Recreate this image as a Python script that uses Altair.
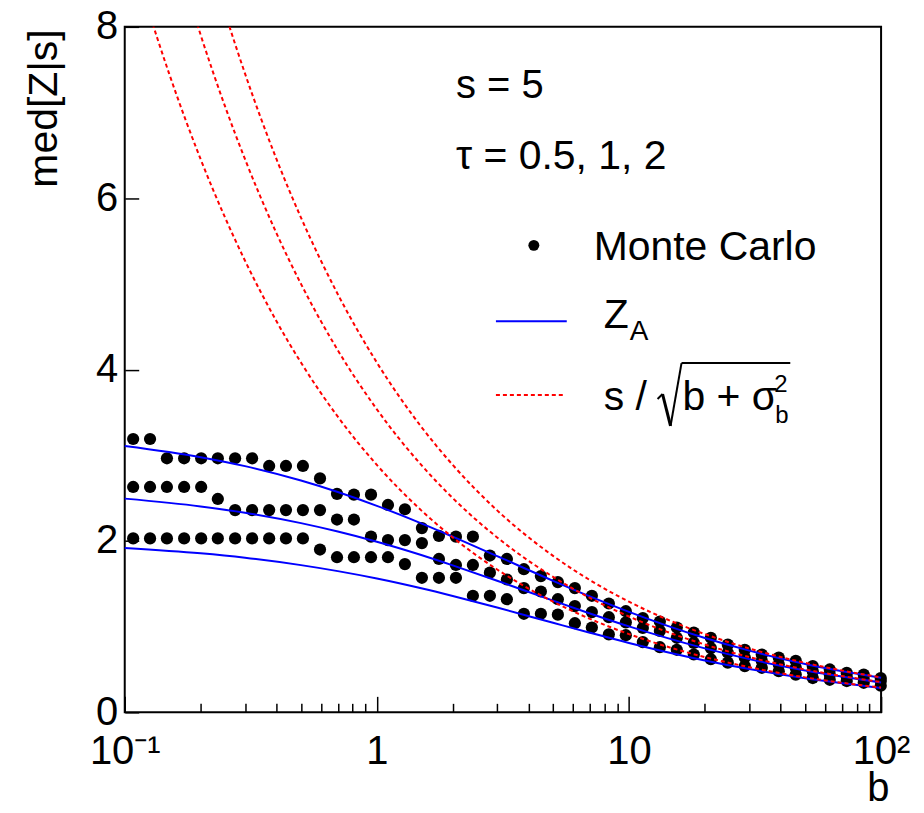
import altair as alt
import pandas as pd

FONT = "Liberation Sans"

# ---------------- data ----------------
# Monte Carlo b grid
b_mc = [0.108, 0.126, 0.147, 0.172, 0.201, 0.234, 0.274, 0.320, 0.374, 0.436,
        0.509, 0.595, 0.695, 0.811, 0.948, 1.107, 1.292, 1.509, 1.763, 2.059,
        2.404, 2.808, 3.279, 3.830, 4.473, 5.224, 6.101, 7.125, 8.322, 9.719,
        11.35, 13.26, 15.48, 18.08, 21.12, 24.66, 28.80, 33.64, 39.28, 45.88,
        53.58, 62.58, 73.08, 85.35, 99.7]
mc_tau2 = [3.19, 3.19, 2.965, 2.965, 2.965, 2.965, 2.965, 2.965, 2.875, 2.875,
           2.875, 2.73, 2.55, 2.54, 2.54, 2.42, 2.37, 2.15, 2.06, 2.05,
           2.05, 1.83, 1.79, 1.67, 1.59, 1.52, 1.45, 1.36, 1.27, 1.18,
           1.10, 1.06, 0.99, 0.93, 0.87, 0.79, 0.73, 0.675, 0.64, 0.60,
           0.54, 0.50, 0.46, 0.44, 0.40]
mc_tau1 = [2.63, 2.63, 2.63, 2.63, 2.63, 2.49, 2.36, 2.36, 2.36, 2.36,
           2.36, 2.36, 2.25, 2.25, 2.05, 2.01, 2.01, 1.975, 1.79, 1.72,
           1.72, 1.63, 1.55, 1.45, 1.41, 1.32, 1.24, 1.17, 1.11, 1.05,
           0.985, 0.95, 0.87, 0.81, 0.75, 0.695, 0.64, 0.60, 0.56, 0.52,
           0.48, 0.44, 0.415, 0.39, 0.365]
mc_tau05 = [2.03, 2.03, 2.03, 2.03, 2.03, 2.03, 2.03, 2.03, 2.03, 2.03,
            2.03, 1.90, 1.81, 1.81, 1.81, 1.81, 1.73, 1.57, 1.57, 1.57,
            1.36, 1.36, 1.32, 1.15, 1.15, 1.14, 1.04, 0.99, 0.91, 0.90,
            0.82, 0.76, 0.73, 0.675, 0.62, 0.58, 0.54, 0.52, 0.48, 0.44,
            0.40, 0.38, 0.365, 0.345, 0.31]

# Z_A curves (blue)
b_za = [0.1, 0.2, 0.3, 0.5, 0.7, 1, 1.5, 2, 3, 5, 7, 10, 20, 30, 50, 100]
za_tau05 = [1.919, 1.856, 1.804, 1.718, 1.648, 1.562, 1.448, 1.358, 1.223,
            1.045, 0.929, 0.810, 0.606, 0.505, 0.397, 0.285]
za_tau1 = [2.494, 2.403, 2.329, 2.208, 2.110, 1.991, 1.836, 1.715, 1.536,
           1.303, 1.154, 1.003, 0.746, 0.621, 0.488, 0.349]
za_tau2 = [3.109, 2.978, 2.873, 2.705, 2.571, 2.410, 2.206, 2.050, 1.823,
           1.535, 1.353, 1.172, 0.867, 0.720, 0.565, 0.404]

# s / sqrt(b + sigma_b^2) curves (red dashed)
b_red = [0.1, 0.12, 0.15, 0.2, 0.25, 0.3, 0.4, 0.5, 0.7, 1, 1.5, 2, 3, 5, 7,
         10, 15, 20, 30, 50, 70, 100]
red_tau05 = [9.129, 8.333, 7.454, 6.455, 5.774, 5.270, 4.564, 4.082, 3.450,
             2.887, 2.357, 2.041, 1.667, 1.291, 1.091, 0.913, 0.745, 0.645,
             0.527, 0.408, 0.345, 0.289]
red_tau1 = [11.180, 10.206, 9.129, 7.906, 7.071, 6.455, 5.590, 5.000, 4.226,
            3.536, 2.887, 2.500, 2.041, 1.581, 1.336, 1.118, 0.913, 0.791,
            0.645, 0.500, 0.423, 0.354]
red_tau2 = [12.910, 11.785, 10.541, 9.129, 8.165, 7.454, 6.455, 5.774, 4.880,
            4.082, 3.333, 2.887, 2.357, 1.826, 1.543, 1.291, 1.054, 0.913,
            0.745, 0.577, 0.488, 0.408]

x_tick_values = [0.1, 0.2, 0.3, 0.4, 0.5, 0.6, 0.7, 0.8, 0.9,
                 1, 2, 3, 4, 5, 6, 7, 8, 9,
                 10, 20, 30, 40, 50, 60, 70, 80, 90, 100]
x_label_values = [0.1, 1, 10, 100]
y_tick_values = [0, 2, 4, 6, 8]

# ---------------- tables ----------------
taus = ["0.5", "1", "2"]
mc = pd.DataFrame({
    "b": b_mc * 3,
    "z": mc_tau05 + mc_tau1 + mc_tau2,
    "tau": sum([[t] * len(b_mc) for t in taus], []),
})
za = pd.DataFrame({
    "b": b_za * 3,
    "z": za_tau05 + za_tau1 + za_tau2,
    "tau": sum([[t] * len(b_za) for t in taus], []),
})
red = pd.DataFrame({
    "b": b_red * 3,
    "z": red_tau05 + red_tau1 + red_tau2,
    "tau": sum([[t] * len(b_red) for t in taus], []),
})

W, H = 758, 687
xscale = alt.Scale(type="log", domain=[0.1, 100], nice=False)
yscale = alt.Scale(domain=[0, 8], nice=False, zero=False)

major_test = "abs(log(datum.value)/LN10 - round(log(datum.value)/LN10)) < 0.01"

x_labels_axis = alt.Axis(
    orient="bottom", values=x_label_values,
    labelExpr="datum.value < 0.5 ? '10⁻¹' : datum.value < 5 ? '1' : datum.value < 50 ? '10' : '10²'",
    ticks=False, tickSize=0, domain=False, grid=False,
    labelFont=FONT, labelFontSize=40, labelColor="black", labelPadding=19,
    labelFlush=False, labelOverlap=False,
    title="b", titleFont=FONT, titleFontSize=40, titleFontWeight="normal",
    titleColor="black", titleAlign="right", titleBaseline="alphabetic",
    titleX=W + 8, titleY=88,
)
x_ticks_axis = alt.Axis(
    orient="top", offset=-H, values=x_tick_values, labels=False,
    domain=False, grid=False, ticks=True, tickColor="black", tickWidth=1.5,
    tickSize={"condition": {"test": major_test, "value": 16}, "value": 9},
    title="",
)
y_labels_axis = alt.Axis(
    orient="left", values=y_tick_values, ticks=False, tickSize=0,
    domain=False, grid=False,
    labelFont=FONT, labelFontSize=40, labelColor="black", labelPadding=7,
    title="med[Z|s]", titleFont=FONT, titleFontSize=41,
    titleFontWeight="normal", titleColor="black", titleAngle=270,
    titleAlign="right", titleBaseline="middle", titleX=-80, titleY=2,
)
y_ticks_axis = alt.Axis(
    orient="right", offset=-W, values=y_tick_values, labels=False,
    domain=False, grid=False, ticks=True, tickColor="black", tickWidth=1.5,
    tickSize=14, title="",
)

pts = alt.Chart(mc).mark_circle(size=150, color="black", opacity=1).encode(
    x=alt.X("b:Q", scale=xscale, axis=x_labels_axis),
    y=alt.Y("z:Q", scale=yscale, axis=y_labels_axis),
    detail="tau:N",
)
blue = alt.Chart(za).mark_line(color="#0000ff", strokeWidth=2,
                               interpolate="monotone").encode(
    x=alt.X("b:Q", scale=xscale, axis=x_ticks_axis),
    y=alt.Y("z:Q", scale=yscale, axis=y_ticks_axis),
    detail="tau:N",
)
redc = alt.Chart(red).mark_line(color="#ff0000", strokeWidth=2,
                                strokeDash=[4, 3], interpolate="monotone",
                                clip=True).encode(
    x=alt.X("b:Q", scale=xscale, axis=None),
    y=alt.Y("z:Q", scale=yscale, axis=None),
    detail="tau:N",
)

one = alt.Data(values=[{}])


def txt(s, x, y, size=40):
    return alt.Chart(one).mark_text(
        text=s, font=FONT, fontSize=size, align="left",
        baseline="alphabetic", color="black",
    ).encode(x=alt.value(x), y=alt.value(y))


def seg(x1, y1, x2, y2, width=2, color="black", dash=None):
    kw = dict(color=color, strokeWidth=width)
    if dash:
        kw["strokeDash"] = dash
    return alt.Chart(one).mark_rule(**kw).encode(
        x=alt.value(x1), y=alt.value(y1), x2=alt.value(x2), y2=alt.value(y2))


annots = [
    txt("s = 5", 332, 71),
    txt("τ = 0.5, 1, 2", 332, 142, 41),
    alt.Chart(one).mark_circle(size=120, color="black", opacity=1).encode(
        x=alt.value(410), y=alt.value(219)),
    txt("Monte Carlo", 470, 234, 41),
    seg(372, 295, 443, 295, 2, "#0000ff"),
    txt("Z", 480, 302, 41),
    txt("A", 506, 314, 28),
    seg(372, 369, 442, 369, 2, "#ff0000", [4, 3]),
    txt("s /", 480, 384, 41),
    # radical sign
    seg(534, 373, 539, 368, 2),
    seg(539, 368, 547, 400, 3),
    seg(547, 400, 558, 337, 2),
    seg(558, 337, 667, 337, 2),
    txt("b + σ", 559, 384, 41),
    txt("2", 651, 366, 24),
    txt("b", 652, 397, 24),
]

chart = alt.layer(pts, blue, redc, *annots).resolve_scale(
    x="shared", y="shared"
).resolve_axis(
    x="independent", y="independent"
).properties(
    width=W, height=H,
    padding={"left": 117, "top": 18, "right": 35, "bottom": 92},
    autosize=alt.AutoSizeParams(type="none"),
).configure_view(stroke="black", strokeWidth=2)

chart.save("out.html", embed_options={"renderer": "svg", "actions": False})
